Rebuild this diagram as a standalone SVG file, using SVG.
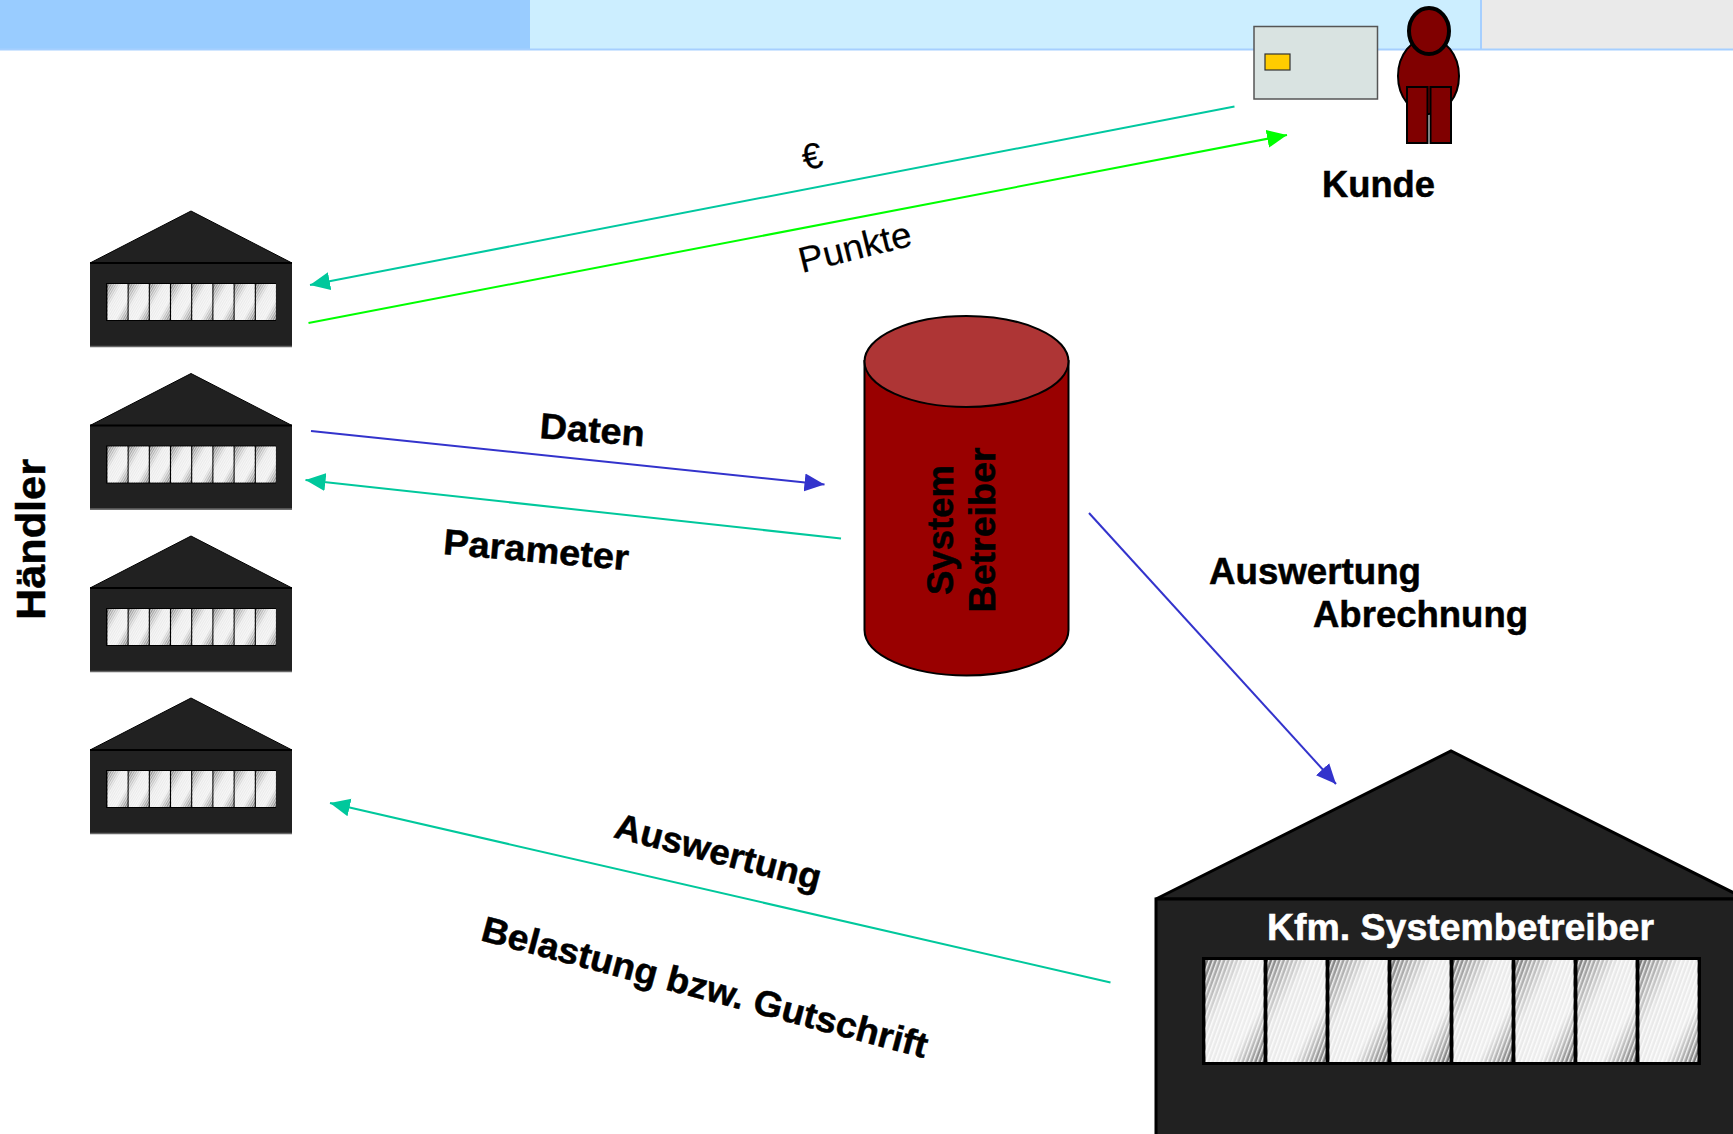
<svg xmlns="http://www.w3.org/2000/svg" width="1733" height="1134" viewBox="0 0 1733 1134">
<style>
text{font-family:"Liberation Sans",Arial,sans-serif;font-weight:700;font-size:36px;fill:#000;stroke:#000;stroke-width:.5px}
text.reg{font-weight:400;stroke-width:.2px}
text.inv{fill:#fff;stroke:#fff}
.wall{fill:#212121;stroke:#000;stroke-width:2}
.conn{fill:none;stroke-width:2}
.pane{fill:url(#paneGrad)}
.hatch{fill:url(#hatch)}
.hatchS{fill:url(#hatchS)}
</style>
<defs>
<linearGradient id="paneGrad" x1="0" y1="0" x2="1" y2="1">
<stop offset="0" stop-color="#6e6e6e"/><stop offset=".12" stop-color="#a0a0a0"/><stop offset=".36" stop-color="#e8e8e8"/><stop offset=".7" stop-color="#eeeeee"/><stop offset=".88" stop-color="#a4a4a4"/><stop offset="1" stop-color="#6a6a6a"/>
</linearGradient>
<pattern id="hatch" width="4" height="4" patternUnits="userSpaceOnUse" patternTransform="rotate(20)">
<rect width="1.5" height="4" fill="#fff" opacity=".85"/>
</pattern>
<pattern id="hatchS" width="2" height="2" patternUnits="userSpaceOnUse" patternTransform="rotate(30)">
<rect width="1" height="2" fill="#fff" opacity=".6"/>
</pattern>
<marker id="aTeal" markerUnits="userSpaceOnUse" markerWidth="21" markerHeight="20" refX="20" refY="10" orient="auto"><path d="M0 1 20 10 0 19z" fill="#00c89c"/></marker>
<marker id="aGreen" markerUnits="userSpaceOnUse" markerWidth="21" markerHeight="20" refX="20" refY="10" orient="auto"><path d="M0 1 20 10 0 19z" fill="#00ff00"/></marker>
<marker id="aBlue" markerUnits="userSpaceOnUse" markerWidth="21" markerHeight="20" refX="20" refY="10" orient="auto"><path d="M0 1 20 10 0 19z" fill="#3333cc"/></marker>
<g id="smallHouse">
<path d="M0 53 101 1 202 53z" class="wall" style="stroke-width:1"/>
<rect x="0" y="53" width="202" height="84" fill="#212121"/>
<path d="M0 53H202" stroke="#000" stroke-width="2"/>
<path d="M0 136.500H202" stroke="#666" stroke-width="1.5"/>
<rect x="16" y="73" width="170" height="38" fill="#000"/>
<rect class="pane" x="17.500" y="74" width="20" height="36"/><rect class="hatchS" x="17.500" y="74" width="20" height="36"/>
<rect class="pane" x="38.700" y="74" width="20" height="36"/><rect class="hatchS" x="38.700" y="74" width="20" height="36"/>
<rect class="pane" x="59.900" y="74" width="20" height="36"/><rect class="hatchS" x="59.900" y="74" width="20" height="36"/>
<rect class="pane" x="81.100" y="74" width="20" height="36"/><rect class="hatchS" x="81.100" y="74" width="20" height="36"/>
<rect class="pane" x="102.300" y="74" width="20" height="36"/><rect class="hatchS" x="102.300" y="74" width="20" height="36"/>
<rect class="pane" x="123.500" y="74" width="20" height="36"/><rect class="hatchS" x="123.500" y="74" width="20" height="36"/>
<rect class="pane" x="144.700" y="74" width="20" height="36"/><rect class="hatchS" x="144.700" y="74" width="20" height="36"/>
<rect class="pane" x="165.900" y="74" width="20" height="36"/><rect class="hatchS" x="165.900" y="74" width="20" height="36"/>
</g>
</defs>

<g id="topbar">
<rect x="0" y="0" width="530" height="50" fill="#99ccff"/>
<rect x="530" y="0" width="951" height="50" fill="#cceeff"/>
<rect x="1481" y="0" width="252" height="50" fill="#eaeaea"/>
<rect x="0" y="48.500" width="1733" height="2" fill="#a6cfff"/>
<rect x="1480" y="0" width="2" height="50" fill="#a6cfff"/>
</g>

<g id="card">
<rect x="1254" y="26.500" width="123.500" height="72.500" fill="#d9e3e1" stroke="#555" stroke-width="1.5"/>
<rect x="1265" y="54" width="25" height="16" fill="#ffcc00" stroke="#333" stroke-width="1.2"/>
</g>

<g id="kunde">
<ellipse cx="1428.500" cy="76" rx="30.500" ry="38" fill="#800000" stroke="#000" stroke-width="2"/>
<rect x="1407" y="87" width="20.500" height="56" fill="#800000" stroke="#000" stroke-width="2"/>
<rect x="1430.500" y="87" width="20.500" height="56" fill="#800000" stroke="#000" stroke-width="2"/>
<ellipse cx="1429" cy="31" rx="20" ry="23" fill="#800000" stroke="#000" stroke-width="4"/>
<text x="1322" y="197" textLength="113" lengthAdjust="spacingAndGlyphs">Kunde</text>
</g>

<g id="haendler-1"><use href="#smallHouse" x="90" y="210"/></g>
<g id="haendler-2"><use href="#smallHouse" x="90" y="372.500"/></g>
<g id="haendler-3"><use href="#smallHouse" x="90" y="535"/></g>
<g id="haendler-4"><use href="#smallHouse" x="90" y="697"/></g>
<g id="haendler-label"><text transform="translate(45 620) rotate(-90)" textLength="161" lengthAdjust="spacingAndGlyphs" style="font-size:41px">Händler</text></g>

<g id="system-betreiber">
<path d="M864.500 361V630C864.500 655 910 675.500 966.500 675.500S1068.500 655 1068.500 630V361z" fill="#990000" stroke="#000" stroke-width="2"/>
<ellipse cx="966.500" cy="361.500" rx="102" ry="45.500" fill="#ae3535" stroke="#000" stroke-width="2"/>
<text transform="translate(953 595) rotate(-90)" textLength="130" lengthAdjust="spacingAndGlyphs">System</text>
<text transform="translate(995 612.500) rotate(-90)" textLength="165" lengthAdjust="spacingAndGlyphs">Betreiber</text>
</g>

<g id="kfm-systembetreiber">
<path d="M1156 899 1451 751 1746 899z" fill="#212121" stroke="#000" stroke-width="3"/>
<rect x="1156" y="899" width="590" height="240" fill="#212121" stroke="#000" stroke-width="3"/>
<text class="inv" x="1267" y="940" textLength="387" lengthAdjust="spacingAndGlyphs">Kfm. Systembetreiber</text>
<rect x="1202" y="957" width="499" height="108" fill="#000"/>
<rect class="pane" x="1205.500" y="960" width="58" height="102"/><rect class="hatch" x="1205.500" y="960" width="58" height="102"/>
<rect class="pane" x="1267.500" y="960" width="58" height="102"/><rect class="hatch" x="1267.500" y="960" width="58" height="102"/>
<rect class="pane" x="1329.500" y="960" width="58" height="102"/><rect class="hatch" x="1329.500" y="960" width="58" height="102"/>
<rect class="pane" x="1391.500" y="960" width="58" height="102"/><rect class="hatch" x="1391.500" y="960" width="58" height="102"/>
<rect class="pane" x="1453.500" y="960" width="58" height="102"/><rect class="hatch" x="1453.500" y="960" width="58" height="102"/>
<rect class="pane" x="1515.500" y="960" width="58" height="102"/><rect class="hatch" x="1515.500" y="960" width="58" height="102"/>
<rect class="pane" x="1577.500" y="960" width="58" height="102"/><rect class="hatch" x="1577.500" y="960" width="58" height="102"/>
<rect class="pane" x="1639.500" y="960" width="58" height="102"/><rect class="hatch" x="1639.500" y="960" width="58" height="102"/>
</g>

<g id="connectors">
<line class="conn" x1="1234.500" y1="106.500" x2="310" y2="285" stroke="#00c8a0" marker-end="url(#aTeal)"/>
<line class="conn" x1="308.500" y1="323" x2="1287" y2="135" stroke="#00ff00" marker-end="url(#aGreen)"/>
<line class="conn" x1="311" y1="431" x2="824.500" y2="484.500" stroke="#3333cc" marker-end="url(#aBlue)"/>
<line class="conn" x1="841" y1="538.500" x2="305.500" y2="480" stroke="#00c89c" marker-end="url(#aTeal)"/>
<line class="conn" x1="1089" y1="513" x2="1336" y2="784" stroke="#3333cc" marker-end="url(#aBlue)"/>
<line class="conn" x1="1110.500" y1="982.500" x2="330" y2="803" stroke="#00c89c" marker-end="url(#aTeal)"/>
</g>

<g id="labels">
<text class="reg" transform="translate(805 170.500) rotate(-13)">€</text>
<text class="reg" transform="translate(802 273) rotate(-14)" textLength="115" lengthAdjust="spacingAndGlyphs">Punkte</text>
<text transform="translate(539 438) rotate(4.500)" textLength="105" lengthAdjust="spacingAndGlyphs">Daten</text>
<text transform="translate(442.500 554) rotate(5)" textLength="186" lengthAdjust="spacingAndGlyphs">Parameter</text>
<text x="1209" y="584" textLength="212" lengthAdjust="spacingAndGlyphs">Auswertung</text>
<text x="1313" y="627" textLength="215" lengthAdjust="spacingAndGlyphs">Abrechnung</text>
<text transform="translate(612.500 837) rotate(14.500)" textLength="212" lengthAdjust="spacingAndGlyphs">Auswertung</text>
<text transform="translate(479.500 940) rotate(14.900)" textLength="460" lengthAdjust="spacingAndGlyphs">Belastung bzw. Gutschrift</text>
</g>
</svg>
